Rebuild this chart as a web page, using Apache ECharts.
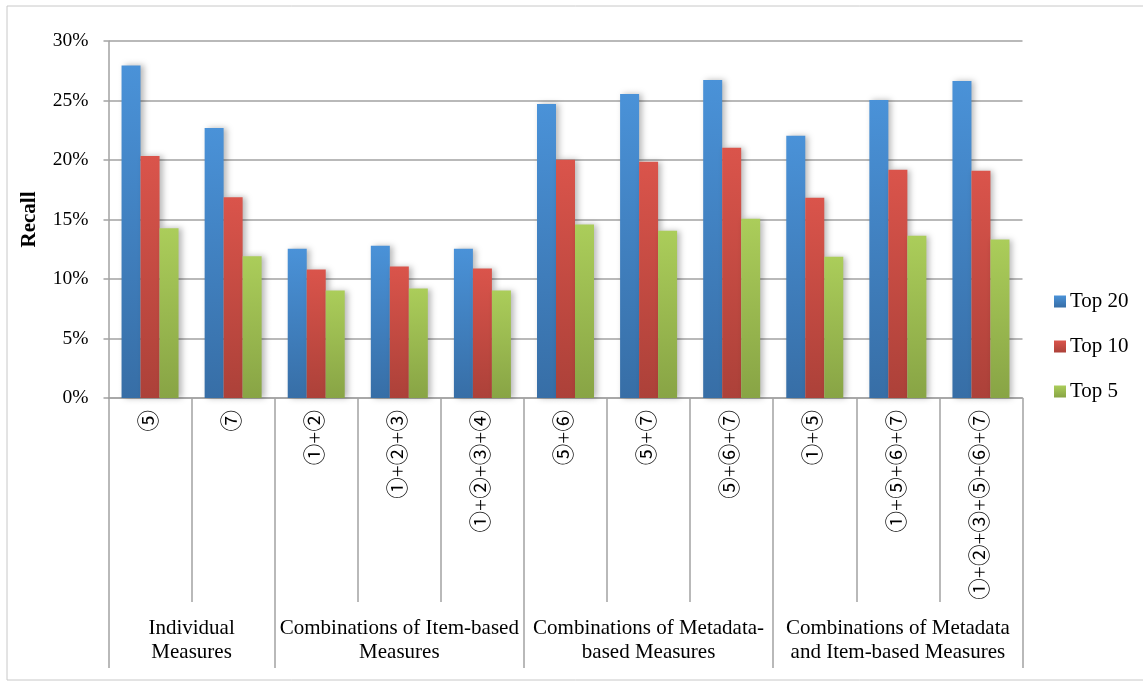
<!DOCTYPE html>
<html>
<head>
<meta charset="utf-8">
<script src="https://cdn.jsdelivr.net/npm/echarts@6/dist/echarts.min.js"></script>
<style>
  html, body { margin: 0; padding: 0; background: #fff; }
  #chart { width: 1143px; height: 681px; }
</style>
</head>
<body>
<div id="chart"></div>
<script>
// Measure combinations (categories along the x axis)
const categories = ['⑤', '⑦', '①+②', '①+②+③', '①+②+③+④', '⑤+⑥', '⑤+⑦', '⑤+⑥+⑦', '①+⑤', '①+⑤+⑥+⑦', '①+②+③+⑤+⑥+⑦'];

// Recall (%) per cut-off
const top20 = [27.95, 22.68, 12.55, 12.80, 12.55, 24.71, 25.55, 26.73, 22.03, 25.05, 26.64];
const top10 = [20.33, 16.88, 10.79, 11.04, 10.88, 20.02, 19.85, 21.02, 16.83, 19.18, 19.09];
const top5  = [14.27, 11.91, 9.03, 9.20, 9.03, 14.57, 14.06, 15.07, 11.88, 13.64, 13.31];

const seriesNames = ['Top 20', 'Top 10', 'Top 5'];

// Category groups: label, and boundaries in category units
const groupLabels = ['Individual\nMeasures', 'Combinations of Item-based\nMeasures', 'Combinations of Metadata-\nbased Measures', 'Combinations of Metadata\nand Item-based Measures'];
const groupCenters = [1, 3.5, 6.5, 9.5];
const groupBounds = [0, 2, 5, 8, 11];

const yTicks = [0, 5, 10, 15, 20, 25, 30];

const serif = "'Liberation Serif', 'Times New Roman', 'Noto Sans CJK JP', serif";
const gray = '#a2a2a2';

function grad(top, bottom) {
  return new echarts.graphic.LinearGradient(0, 0, 0, 1, [
    { offset: 0, color: top },
    { offset: 1, color: bottom }
  ]);
}
const fills = [
  grad('#4a92d8', '#376ea6'),
  grad('#da544b', '#ac4139'),
  grad('#abcd5a', '#88a445')
];
const values = [top20, top10, top5];

const chart = echarts.init(document.getElementById('chart'), null, { renderer: 'canvas' });

chart.setOption({
  animation: false,
  backgroundColor: '#fff',
  graphic: [{
    type: 'rect',
    shape: { x: 7, y: 6, width: 1145, height: 674 },
    style: { fill: 'none', stroke: '#c8c8c8', lineWidth: 1 },
    silent: true
  }],
  grid: {
    left: 108.5, right: 120.5, top: 41, bottom: 283,
    containLabel: false,
    outerBoundsMode: 'none'
  },
  legend: {
    orient: 'vertical',
    left: 1054,
    top: 291,
    padding: 0,
    icon: 'rect',
    itemWidth: 12,
    itemHeight: 12,
    itemGap: 24,
    data: seriesNames,
    textStyle: { fontFamily: serif, fontSize: 21, color: '#000', lineHeight: 20, padding: [0, 0, 0, -1] }
  },
  xAxis: [{
    type: 'category',
    data: categories,
    position: 'bottom',
    boundaryGap: true,
    axisLine: { show: true, lineStyle: { color: gray, width: 1.5 } },
    axisTick: { show: true, interval: 0, length: 204, lineStyle: { color: gray, width: 1.5 } },
    axisLabel: {
      interval: 0,
      rotate: 90,
      margin: 12,
      fontFamily: serif,
      fontSize: 21.5,
      color: '#000'
    },
    splitLine: { show: false }
  }, {
    type: 'value',
    min: 0,
    max: 11,
    position: 'bottom',
    offset: 0,
    axisLine: { show: false },
    splitLine: { show: false },
    axisTick: {
      show: true,
      customValues: groupBounds,
      length: 270,
      lineStyle: { color: gray, width: 1.5 }
    },
    axisLabel: {
      customValues: groupCenters,
      margin: 218,
      fontFamily: serif,
      fontSize: 21,
      lineHeight: 24,
      color: '#000',
      align: 'center',
      formatter: function (v) {
        const i = groupCenters.indexOf(v);
        return i >= 0 ? groupLabels[i] : '';
      }
    }
  }],
  yAxis: {
    type: 'value',
    min: yTicks[0],
    max: yTicks[yTicks.length - 1],
    interval: 5,
    name: 'Recall',
    nameLocation: 'middle',
    nameGap: 68,
    nameRotate: 90,
    nameTextStyle: { fontFamily: serif, fontSize: 21, fontWeight: 'bold', color: '#000' },
    axisLine: { show: true, lineStyle: { color: gray, width: 1.5 } },
    axisTick: { show: true, length: 5, lineStyle: { color: gray, width: 1.5 } },
    axisLabel: {
      margin: 20,
      fontFamily: serif,
      fontSize: 19.5,
      color: '#000',
      formatter: '{value}%'
    },
    splitLine: { show: true, lineStyle: { color: gray, width: 1.5 } }
  },
  series: seriesNames.map(function (name, i) {
    return {
      name: name,
      type: 'bar',
      xAxisIndex: 0,
      data: values[i],
      barWidth: 19,
      barGap: '0%',
      itemStyle: {
        color: fills[i],
        shadowColor: 'rgba(0,0,0,0.28)',
        shadowBlur: 6,
        shadowOffsetX: 3,
        shadowOffsetY: 0
      }
    };
  })
});
</script>
</body>
</html>
